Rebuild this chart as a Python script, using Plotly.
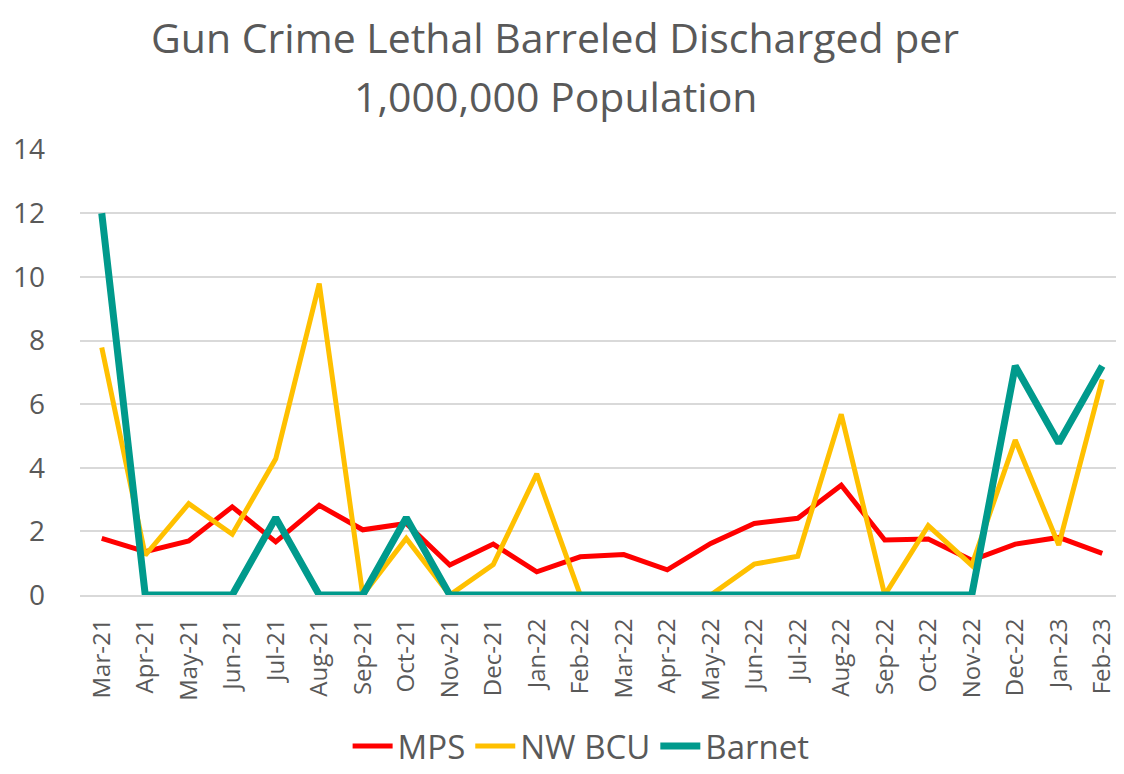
import plotly.graph_objects as go

# Month labels along the x axis
months = ["Mar-21", "Apr-21", "May-21", "Jun-21", "Jul-21", "Aug-21", "Sep-21", "Oct-21",
          "Nov-21", "Dec-21", "Jan-22", "Feb-22", "Mar-22", "Apr-22", "May-22", "Jun-22",
          "Jul-22", "Aug-22", "Sep-22", "Oct-22", "Nov-22", "Dec-22", "Jan-23", "Feb-23"]

# Rates per 1,000,000 population
mps = [1.78, 1.36, 1.70, 2.77, 1.67, 2.82, 2.05, 2.25, 0.94, 1.60, 0.73, 1.20,
       1.27, 0.79, 1.62, 2.25, 2.41, 3.45, 1.73, 1.76, 1.09, 1.60, 1.81, 1.31]
nw_bcu = [7.78, 1.25, 2.87, 1.91, 4.28, 9.79, 0, 1.78, 0, 0.96, 3.81, 0,
          0, 0, 0, 0.97, 1.22, 5.68, 0, 2.18, 0.93, 4.87, 1.57, 6.78]
barnet = [12.0, 0, 0, 0, 2.43, 0, 0, 2.43, 0, 0, 0, 0,
          0, 0, 0, 0, 0, 0, 0, 0, 0, 7.2, 4.78, 7.2]

title_lines = ["Gun Crime Lethal Barreled Discharged per", "1,000,000 Population"]

FONT = "Open Sans, Liberation Sans, sans-serif"
TEXT_GREY = "#595959"
GRID = "#d9d9d9"

# page body adds an 8px margin, so the figure is 8px smaller than the window
W, H = 1116, 766
T, B, L = 141, 179, 72
PLOT_H = H - T - B

fig = go.Figure()
fig.add_trace(go.Scatter(x=months, y=mps, mode="lines", name="MPS",
                         line=dict(color="#ff0000", width=5)))
fig.add_trace(go.Scatter(x=months, y=nw_bcu, mode="lines", name="NW BCU",
                         line=dict(color="#ffc000", width=5)))
fig.add_trace(go.Scatter(x=months, y=barnet, mode="lines", name="Barnet",
                         line=dict(color="#009a8c", width=7)))

# two-line title, each line placed on its own
for i, line in enumerate(title_lines):
    fig.add_annotation(
        text=line, xref="paper", yref="paper",
        x=0.455, y=(H - B - (29 + 59 * i)) / PLOT_H, xanchor="center", yanchor="middle",
        showarrow=False, font=dict(size=41, color=TEXT_GREY, family=FONT),
    )

fig.update_layout(
    width=W, height=H,
    paper_bgcolor="white", plot_bgcolor="white",
    margin=dict(l=L, r=0, t=T, b=B),
    font=dict(family=FONT, color=TEXT_GREY),
    legend=dict(
        orientation="h", x=0.48, xanchor="center",
        yref="container", y=0, yanchor="bottom",
        font=dict(size=33, color=TEXT_GREY), itemwidth=40,
    ),
    showlegend=True,
)
fig.update_xaxes(
    type="category", range=[-0.5, 23.5], tickangle=-90, automargin=False,
    tickfont=dict(size=24, color=TEXT_GREY), showgrid=False,
    showline=True, linecolor=GRID, linewidth=2, ticks="", ticklabelstandoff=12,
    fixedrange=True,
)
fig.update_yaxes(
    range=[0, 14.02], tickvals=[0, 2, 4, 6, 8, 10, 12, 14], automargin=False,
    tickfont=dict(size=28, color=TEXT_GREY),
    showgrid=True, gridcolor=GRID, gridwidth=2, zeroline=False,
    showline=False, ticks="", ticklabelstandoff=34, fixedrange=True,
)

fig.write_html("out.html")
